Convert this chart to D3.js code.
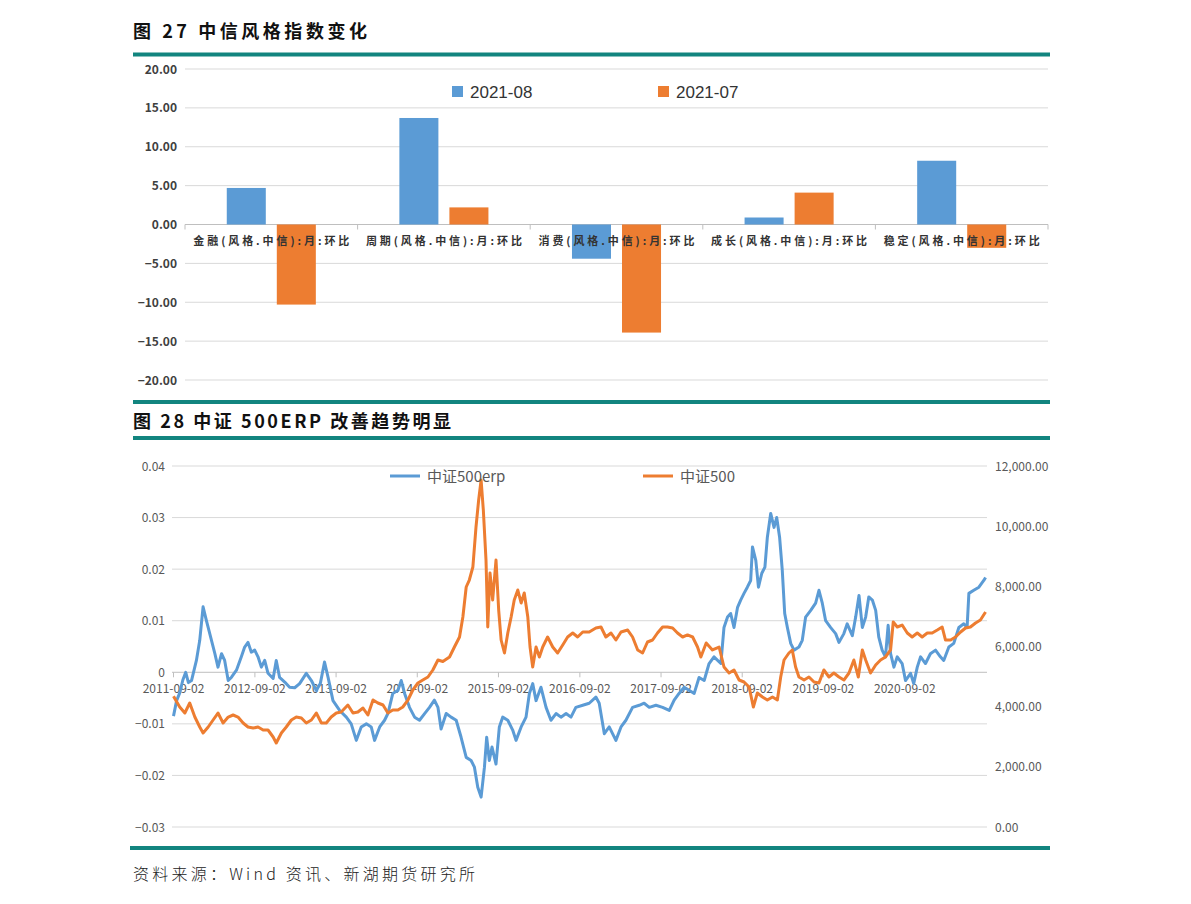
<!DOCTYPE html>
<html><head><meta charset="utf-8">
<script src="https://cdn.jsdelivr.net/npm/d3@7"></script>
<style>
body{margin:0;background:#fff;}
svg{display:block;font-family:'Noto Sans CJK SC','Noto Sans',sans-serif;}
</style>
</head><body>
<svg id="c" width="1191" height="904"></svg>
<script>
// ---------- Figure 27 data ----------
const styleCategories = ["金融(风格.中信):月:环比","周期(风格.中信):月:环比","消费(风格.中信):月:环比","成长(风格.中信):月:环比","稳定(风格.中信):月:环比"];
const barSeriesNames = ["2021-08","2021-07"];
const values202108 = [4.7, 13.7, -4.4, 0.9, 8.2];
const values202107 = [-10.3, 2.2, -13.9, 4.1, -3.0];
const barTicks = [20, 15, 10, 5, 0, -5, -10, -15, -20];

// ---------- Figure 28 data ----------
const lineSeriesNames = ["中证500erp","中证500"];
const erpTicks = [0.04, 0.03, 0.02, 0.01, 0, -0.01, -0.02, -0.03];
const csiTicks = [12000, 10000, 8000, 6000, 4000, 2000, 0];
const dateTickLabels = ["2011-09-02","2012-09-02","2013-09-02","2014-09-02","2015-09-02","2016-09-02","2017-09-02","2018-09-02","2019-09-02","2020-09-02"];
const erpSeries = [
["2011-09-02",-0.0085],["2011-09-16",-0.0055],["2011-09-30",-0.004],["2011-10-14",-0.0015],["2011-10-27",0.0],
["2011-11-08",-0.002],["2011-11-22",-0.0016],["2011-12-14",0.0023],["2011-12-29",0.0062],["2012-01-13",0.0127],
["2012-01-28",0.010],["2012-02-12",0.0075],["2012-03-06",0.0036],["2012-03-20",0.001],["2012-04-05",0.0036],
["2012-04-19",0.0023],["2012-05-05",-0.0016],["2012-05-19",-0.001],["2012-06-11",0.0004],["2012-07-03",0.003],
["2012-07-18",0.0049],["2012-08-02",0.0058],["2012-08-17",0.0039],["2012-09-01",0.0043],["2012-09-16",0.003],
["2012-10-01",0.001],["2012-10-16",0.0023],["2012-10-31",-0.0002],["2012-11-23",-0.0012],["2012-12-07",0.0023],
["2012-12-22",-0.001],["2013-01-14",-0.0019],["2013-02-05",-0.0029],["2013-02-28",-0.003],["2013-03-22",-0.0022],
["2013-04-21",-0.0002],["2013-05-14",-0.0016],["2013-06-05",-0.0035],["2013-06-23",-0.0022],["2013-07-12",0.002],
["2013-07-28",-0.001],["2013-08-19",-0.0055],["2013-09-18",-0.0074],["2013-10-18",-0.0087],["2013-11-09",-0.010],
["2013-12-02",-0.0132],["2013-12-24",-0.0106],["2014-01-16",-0.010],["2014-02-07",-0.0106],["2014-02-22",-0.0132],
["2014-03-17",-0.0106],["2014-04-08",-0.0093],["2014-04-23",-0.008],["2014-05-15",-0.0041],["2014-06-07",-0.0035],
["2014-06-22",-0.0016],["2014-07-07",-0.0041],["2014-07-29",-0.0068],["2014-08-21",-0.0087],["2014-09-12",-0.0093],
["2014-10-05",-0.008],["2014-10-27",-0.0068],["2014-11-18",-0.0054],["2014-12-04",-0.0068],["2014-12-18",-0.011],
["2015-01-10",-0.008],["2015-02-01",-0.0087],["2015-02-24",-0.0093],["2015-03-18",-0.0126],["2015-04-10",-0.0165],
["2015-05-02",-0.0171],["2015-05-17",-0.0184],["2015-06-01",-0.0223],["2015-06-16",-0.0242],["2015-07-01",-0.0184],
["2015-07-11",-0.0126],["2015-07-23",-0.0171],["2015-08-04",-0.0145],["2015-08-22",-0.0178],["2015-09-06",-0.0106],
["2015-09-21",-0.0087],["2015-10-14",-0.0093],["2015-11-05",-0.0112],["2015-11-20",-0.0132],["2015-12-13",-0.0106],
["2016-01-04",-0.0087],["2016-01-19",-0.0041],["2016-02-03",-0.0022],["2016-02-18",-0.0055],["2016-03-11",-0.0029],
["2016-04-03",-0.0068],["2016-04-25",-0.0093],["2016-05-18",-0.008],["2016-06-09",-0.0087],["2016-07-02",-0.008],
["2016-07-24",-0.0087],["2016-08-15",-0.0068],["2016-09-15",-0.0064],["2016-10-14",-0.006],["2016-11-13",-0.0048],
["2016-11-28",-0.006],["2016-12-21",-0.0119],["2017-01-12",-0.0106],["2017-02-11",-0.0132],["2017-03-06",-0.0106],
["2017-03-28",-0.0093],["2017-04-27",-0.0068],["2017-05-27",-0.0064],["2017-06-18",-0.006],["2017-07-11",-0.0068],
["2017-08-10",-0.0064],["2017-09-09",-0.0068],["2017-10-09",-0.0074],["2017-10-31",-0.0054],["2017-11-22",-0.0041],
["2017-12-15",-0.0029],["2018-01-06",-0.0035],["2018-01-29",-0.0041],["2018-02-20",-0.001],["2018-03-15",-0.0016],
["2018-04-06",0.0017],["2018-04-28",0.003],["2018-05-29",0.0017],["2018-06-12",0.0087],["2018-06-28",0.0107],
["2018-07-12",0.0114],["2018-07-27",0.0087],["2018-08-12",0.0126],["2018-08-26",0.014],["2018-09-10",0.0153],
["2018-09-25",0.0165],["2018-10-10",0.0178],["2018-10-18",0.0243],["2018-11-02",0.0217],["2018-11-14",0.0165],
["2018-11-29",0.0192],["2018-12-13",0.0204],["2018-12-24",0.0262],["2019-01-08",0.0308],["2019-01-23",0.0281],
["2019-02-04",0.030],["2019-02-17",0.0262],["2019-03-01",0.0198],["2019-03-12",0.0114],["2019-03-24",0.0087],
["2019-04-08",0.0056],["2019-04-23",0.0043],["2019-05-15",0.0049],["2019-05-30",0.0062],["2019-06-14",0.0107],
["2019-07-07",0.012],["2019-07-29",0.0134],["2019-08-13",0.0159],["2019-08-28",0.0134],["2019-09-12",0.010],
["2019-10-04",0.0087],["2019-10-27",0.0075],["2019-11-11",0.0058],["2019-12-03",0.0075],["2019-12-18",0.0094],
["2020-01-10",0.0071],["2020-01-25",0.0107],["2020-02-09",0.0149],["2020-02-24",0.0087],["2020-03-10",0.0107],
["2020-03-24",0.0146],["2020-04-09",0.014],["2020-04-24",0.012],["2020-05-08",0.0068],["2020-05-23",0.0043],
["2020-06-07",0.003],["2020-06-19",0.0091],["2020-06-30",0.0036],["2020-07-15",0.001],["2020-07-30",0.003],
["2020-08-21",0.0017],["2020-09-05",-0.0016],["2020-09-28",-0.0002],["2020-10-12",-0.0022],["2020-10-28",0.001],
["2020-11-12",0.003],["2020-12-04",0.0017],["2020-12-26",0.0036],["2021-01-18",0.0043],["2021-02-09",0.003],
["2021-02-24",0.0023],["2021-03-19",0.0049],["2021-04-10",0.0056],["2021-05-03",0.0087],["2021-05-25",0.0094],
["2021-06-09",0.0087],["2021-06-17",0.0153],["2021-07-09",0.0159],["2021-08-01",0.0165],["2021-08-23",0.0178],
["2021-08-31",0.0184]
];
const csi500Series = [
["2011-09-02",4350],["2011-09-30",3989],["2011-10-23",3789],["2011-11-14",4122],["2011-12-07",3656],
["2011-12-29",3324],["2012-01-13",3125],["2012-02-05",3324],["2012-02-27",3557],["2012-03-20",3789],
["2012-04-12",3457],["2012-05-05",3656],["2012-05-27",3723],["2012-06-18",3656],["2012-07-11",3457],
["2012-08-02",3324],["2012-08-25",3290],["2012-09-16",3324],["2012-10-09",3224],["2012-10-31",3224],
["2012-11-23",2992],["2012-12-07",2792],["2012-12-30",3125],["2013-01-21",3324],["2013-02-13",3557],
["2013-03-07",3656],["2013-03-30",3623],["2013-04-21",3457],["2013-05-14",3557],["2013-06-05",3789],
["2013-06-28",3457],["2013-07-20",3457],["2013-08-11",3656],["2013-09-03",3789],["2013-09-25",3822],
["2013-10-25",4055],["2013-11-17",3789],["2013-12-09",3822],["2014-01-01",3955],["2014-01-23",3723],
["2014-02-15",4221],["2014-03-09",4122],["2014-04-01",4055],["2014-04-23",3789],["2014-05-15",3889],
["2014-06-07",3889],["2014-06-29",3989],["2014-07-22",4221],["2014-08-13",4554],["2014-09-05",4787],
["2014-09-27",4886],["2014-10-20",4986],["2014-11-11",5219],["2014-12-04",5551],["2014-12-26",5500],
["2015-01-25",5651],["2015-02-16",5983],["2015-03-11",6316],["2015-03-26",6980],["2015-04-10",7978],
["2015-04-24",8210],["2015-05-10",8642],["2015-05-24",9972],["2015-06-05",10870],["2015-06-16",11534],
["2015-06-26",10537],["2015-07-08",8875],["2015-07-16",6648],["2015-07-26",8443],["2015-08-07",7546],
["2015-08-22",8875],["2015-09-03",7213],["2015-09-14",6216],["2015-09-29",5784],["2015-10-14",6449],
["2015-10-29",6980],["2015-11-12",7546],["2015-11-28",7878],["2015-12-13",7446],["2015-12-27",7778],
["2016-01-12",6980],["2016-01-22",5983],["2016-02-03",5318],["2016-02-18",5983],["2016-03-04",5651],
["2016-03-19",5983],["2016-04-10",6316],["2016-05-03",5983],["2016-05-25",5784],["2016-06-17",6050],
["2016-07-09",6316],["2016-08-01",6449],["2016-08-23",6316],["2016-09-15",6482],["2016-10-14",6482],
["2016-11-13",6615],["2016-12-06",6648],["2016-12-28",6316],["2017-01-20",6449],["2017-02-11",6216],
["2017-03-06",6482],["2017-04-05",6548],["2017-04-27",6316],["2017-05-20",5884],["2017-06-11",5784],
["2017-07-03",6150],["2017-07-26",6216],["2017-08-17",6449],["2017-09-09",6648],["2017-10-01",6648],
["2017-10-24",6615],["2017-11-15",6449],["2017-12-08",6316],["2017-12-30",6383],["2018-01-22",6316],
["2018-02-13",5983],["2018-02-28",5651],["2018-03-24",6116],["2018-04-21",5884],["2018-05-21",5983],
["2018-06-12",5318],["2018-07-05",5119],["2018-07-27",5219],["2018-08-19",4886],["2018-09-10",4820],
["2018-10-03",4654],["2018-10-22",3989],["2018-11-09",4454],["2018-12-02",4321],["2018-12-24",4221],
["2019-01-16",4321],["2019-02-07",4221],["2019-02-22",4986],["2019-03-09",5551],["2019-03-31",5784],
["2019-04-15",5884],["2019-04-30",5318],["2019-05-15",4986],["2019-06-07",4886],["2019-06-29",4986],
["2019-07-22",4820],["2019-08-13",4787],["2019-09-04",5219],["2019-09-27",4986],["2019-10-19",5119],
["2019-11-11",4986],["2019-12-03",4886],["2019-12-26",5119],["2020-01-17",5551],["2020-02-06",4986],
["2020-02-24",5884],["2020-03-10",5551],["2020-04-01",5119],["2020-04-24",5385],["2020-05-16",5551],
["2020-06-07",5651],["2020-06-30",5884],["2020-07-12",6814],["2020-07-30",6648],["2020-08-21",6714],
["2020-09-13",6449],["2020-10-05",6316],["2020-10-28",6449],["2020-11-19",6316],["2020-12-12",6449],
["2021-01-03",6449],["2021-01-26",6548],["2021-02-17",6648],["2021-03-04",6216],["2021-03-27",6216],
["2021-04-18",6316],["2021-05-11",6482],["2021-06-02",6615],["2021-06-24",6648],["2021-07-17",6781],
["2021-08-08",6881],["2021-08-31",7146]
];

// ---------- drawing ----------
const svg = d3.select("#c");
const TEAL = "#12857f", BLUE = "#5b9bd5", ORANGE = "#ed7d31", GRID = "#d9d9d9", AXIS = "#bfbfbf", LBL = "#595959";
const parse = d3.timeParse("%Y-%m-%d");

function rule(y1, y2, x1, x2){
  svg.append("rect").attr("x", x1).attr("y", y1).attr("width", x2 - x1).attr("height", y2 - y1).attr("fill", TEAL);
}

// Titles & rules
svg.append("text").attr("x", 133).attr("y", 38).attr("font-size", 18).attr("font-weight", "bold")
  .attr("fill", "#111").attr("textLength", 234).attr("lengthAdjust", "spacing").text("图 27  中信风格指数变化");
rule(52.5, 56.5, 133, 1050);
rule(400, 404, 133, 1050);
svg.append("text").attr("x", 133).attr("y", 428).attr("font-size", 18).attr("font-weight", "bold")
  .attr("fill", "#111").attr("textLength", 318).attr("lengthAdjust", "spacing").text("图 28  中证 500ERP 改善趋势明显");
rule(436, 440, 133, 1050);
rule(846, 850, 130, 1050);
svg.append("text").attr("x", 133).attr("y", 880).attr("font-size", 16).attr("font-weight", 300)
  .attr("fill", "#222").attr("textLength", 342).attr("lengthAdjust", "spacing").text("资料来源：Wind 资讯、新湖期货研究所");

// ---------- Figure 27: grouped bars ----------
const y1 = d3.scaleLinear().domain([-20, 20]).range([380, 69]);
const x0 = d3.scaleBand().domain(styleCategories).range([185, 1048]).paddingInner(0).paddingOuter(0);
const groupW = x0.bandwidth() * 0.516;
const x1 = d3.scaleBand().domain(barSeriesNames).range([0, groupW]).paddingInner(0.22);

const gTop = svg.append("g");
gTop.selectAll("line.grid").data(barTicks).join("line")
  .attr("x1", 185).attr("x2", 1048).attr("y1", d => y1(d)).attr("y2", d => y1(d))
  .attr("stroke", d => d === 0 ? AXIS : GRID).attr("stroke-width", 1);
gTop.selectAll("text.yl").data(barTicks).join("text")
  .attr("x", 177).attr("y", d => y1(d) + 4.5).attr("text-anchor", "end")
  .attr("font-size", 12).attr("font-weight", "bold").attr("fill", "#404040")
  .text(d => d3.format(".2f")(d));

const barData = [];
styleCategories.forEach((c, i) => {
  barData.push({cat: c, s: barSeriesNames[0], v: values202108[i]});
  barData.push({cat: c, s: barSeriesNames[1], v: values202107[i]});
});
gTop.selectAll("rect.bar").data(barData).join("rect")
  .attr("x", d => x0(d.cat) + (x0.bandwidth() - groupW) / 2 + x1(d.s))
  .attr("width", x1.bandwidth())
  .attr("y", d => y1(Math.max(0, d.v)))
  .attr("height", d => Math.abs(y1(d.v) - y1(0)))
  .attr("fill", d => d.s === barSeriesNames[0] ? BLUE : ORANGE);

// category ticks
const catBounds = styleCategories.map(c => x0(c)).concat([x0.range()[1]]);
gTop.selectAll("line.ct").data(catBounds).join("line")
  .attr("x1", d => d).attr("x2", d => d).attr("y1", y1(0)).attr("y2", y1(0) + 5)
  .attr("stroke", AXIS);
gTop.selectAll("text.cat").data(styleCategories).join("text")
  .attr("x", d => x0(d) + x0.bandwidth() / 2 - 78).attr("y", y1(0) + 20)
  .attr("font-size", 11).attr("font-weight", "bold").attr("fill", "#333")
  .attr("textLength", 156).attr("lengthAdjust", "spacing")
  .text(d => d);

// top legend
const legTop = [{n: barSeriesNames[0], c: BLUE, x: 452}, {n: barSeriesNames[1], c: ORANGE, x: 658}];
legTop.forEach(l => {
  gTop.append("rect").attr("x", l.x).attr("y", 86).attr("width", 11).attr("height", 11).attr("fill", l.c);
  gTop.append("text").attr("x", l.x + 18).attr("y", 98).attr("font-size", 17)
    .attr("font-family", "'Liberation Sans', Arial, sans-serif").attr("fill", "#333").text(l.n);
});

// ---------- Figure 28: dual axis lines ----------
const xT = d3.scaleTime().domain([parse("2011-09-02"), parse("2021-09-02")]).range([173.5, 986]);
const yL = d3.scaleLinear().domain([-0.03, 0.04]).range([827, 466]);
const yR = d3.scaleLinear().domain([0, 12000]).range([827, 466]);
const gB = svg.append("g");

gB.selectAll("line.grid").data(erpTicks).join("line")
  .attr("x1", 172).attr("x2", 987).attr("y1", d => yL(d)).attr("y2", d => yL(d))
  .attr("stroke", d => d === 0 ? AXIS : GRID).attr("stroke-width", 1);
gB.selectAll("text.yl").data(erpTicks).join("text")
  .attr("x", 165).attr("y", d => yL(d) + 4.5).attr("text-anchor", "end")
  .attr("font-size", 12).attr("fill", LBL)
  .text(d => d === 0 ? "0" : d3.format(".2f")(d));
gB.selectAll("text.yr").data(csiTicks).join("text")
  .attr("x", 995).attr("y", d => yR(d) + 4.5).attr("text-anchor", "start")
  .attr("font-size", 12).attr("fill", LBL)
  .text(d => d3.format(",.2f")(d));

// x ticks and labels
const tickDates = dateTickLabels.map(parse);
gB.selectAll("line.xt").data(tickDates).join("line")
  .attr("x1", d => xT(d)).attr("x2", d => xT(d)).attr("y1", yL(0)).attr("y2", yL(0) + 5).attr("stroke", AXIS);
gB.selectAll("text.xl").data(dateTickLabels).join("text")
  .attr("x", d => xT(parse(d))).attr("y", yL(0) + 21).attr("text-anchor", "middle")
  .attr("font-size", 12).attr("fill", LBL).text(d => d);

const lineGen = (ys) => d3.line().x(d => xT(parse(d[0]))).y(d => ys(d[1])).curve(d3.curveLinear);
gB.append("path").datum(erpSeries).attr("d", lineGen(yL))
  .attr("fill", "none").attr("stroke", BLUE).attr("stroke-width", 3).attr("stroke-linejoin", "round");
gB.append("path").datum(csi500Series).attr("d", lineGen(yR))
  .attr("fill", "none").attr("stroke", ORANGE).attr("stroke-width", 3).attr("stroke-linejoin", "round");

// bottom legend
const legB = [{n: lineSeriesNames[0], c: BLUE, x: 390}, {n: lineSeriesNames[1], c: ORANGE, x: 643}];
legB.forEach(l => {
  gB.append("line").attr("x1", l.x).attr("x2", l.x + 30).attr("y1", 476).attr("y2", 476)
    .attr("stroke", l.c).attr("stroke-width", 3);
  gB.append("text").attr("x", l.x + 37).attr("y", 481.5).attr("font-size", 15).attr("fill", LBL).text(l.n);
});
</script>
</body></html>
